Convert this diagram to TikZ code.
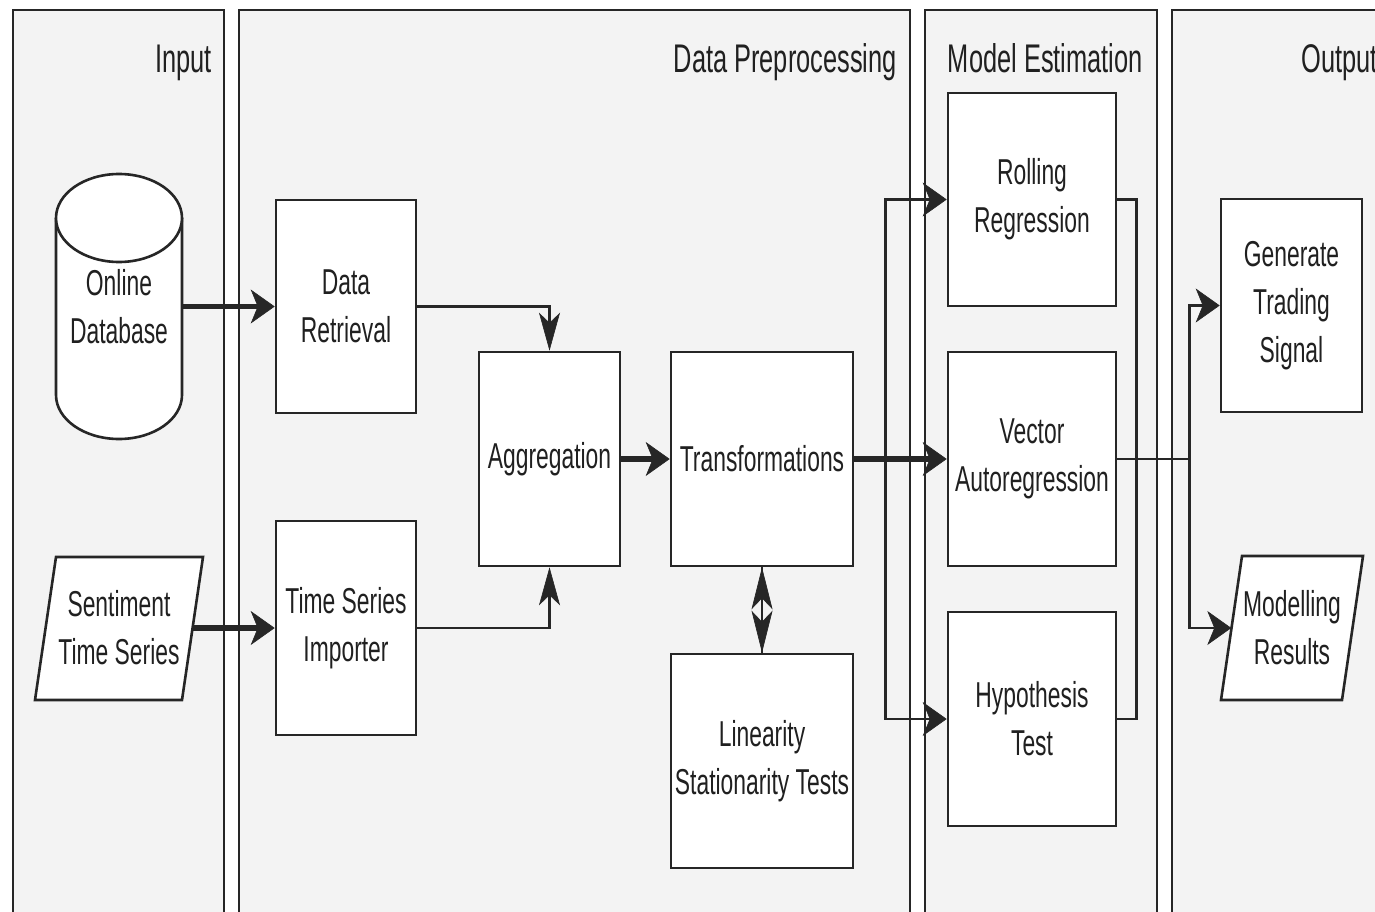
\documentclass[tikz,border=0pt]{standalone}
\usepackage{fontspec}
\setmainfont{Liberation Sans}[FakeStretch=0.635]
\usetikzlibrary{arrows.meta}
\pgfdeclarelayer{panels}
\pgfdeclarelayer{shapes}
\pgfsetlayers{panels,shapes,main}
\definecolor{ink}{HTML}{202020}
\definecolor{stroke}{HTML}{262626}
\definecolor{lane}{HTML}{F3F3F3}

\tikzset{
  lanebox/.style={draw=stroke, fill=lane, line width=2.6pt},
  lanetitle/.style={anchor=base east, inner sep=0pt, font=\fontsize{40}{48}\selectfont},
  procbox/.style={draw=stroke, fill=white, line width=2.6pt, inner sep=0pt, align=center},
  textonly/.style={inner sep=0pt, align=center},
  outline/.style={draw=stroke, fill=white, line width=2.6pt},
  thinline/.style={draw=stroke, line width=2.6pt},
  thickline/.style={draw=stroke, line width=5.5pt},
  harrow/.style={-{Stealth[length=24pt, width=34pt, inset=7pt, line width=0.6pt]}},
  varrow/.style={-{Stealth[length=38pt, width=21pt, inset=10pt, line width=0.6pt]}},
  dblarrow/.style={{Stealth[length=42pt, width=21pt, inset=11pt, line width=0.6pt]}-{Stealth[length=42pt, width=21pt, inset=11pt, line width=0.6pt]}},
}

\begin{document}
\begin{tikzpicture}[x=1pt, y=-1pt, font=\fontsize{36}{48}\selectfont, text=ink]
\useasboundingbox (0,0) rectangle (1375,912);

% swim lanes
\begin{pgfonlayer}{panels}
  \fill[white] (0,0) rectangle (1375,912);
  \draw[lanebox] (13,10) rectangle (224,930);
  \draw[lanebox] (239,10) rectangle (910,930);
  \draw[lanebox] (925,10) rectangle (1157,930);
  \draw[lanebox] (1172,10) rectangle (1392,930);
\end{pgfonlayer}

\node[lanetitle] (tin)  at (212,73)  {Input};
\node[lanetitle] (tpre) at (897,73)  {Data Preprocessing};
\node[lanetitle] (test) at (1143,73) {Model Estimation};
\node[lanetitle] (tout) at (1378,73) {Output};

% input sources
\node[textonly, minimum width=126pt, minimum height=265pt] (db) at (119,306.5) {Online\\Database};
\node[textonly, minimum width=147pt, minimum height=143pt] (sts) at (119,628) {Sentiment\\Time Series};

% preprocessing
\node[procbox, minimum width=140pt, minimum height=213pt] (dr)  at (346,306.5) {Data\\Retrieval};
\node[procbox, minimum width=140pt, minimum height=214pt] (tsi) at (346,628)   {Time Series\\Importer};
\node[procbox, minimum width=141pt, minimum height=214pt] (agg) at (549.5,459) {Aggregation};
\node[procbox, minimum width=182pt, minimum height=214pt] (tr)  at (762,459)   {Transformations};
\node[procbox, minimum width=182pt, minimum height=214pt] (lin) at (762,761)   {Linearity\\Stationarity Tests};

% estimation
\node[procbox, minimum width=168pt, minimum height=213pt] (rr)  at (1032,199.5) {Rolling\\Regression};
\node[procbox, minimum width=168pt, minimum height=214pt] (var) at (1032,459)   {Vector\\Autoregression};
\node[procbox, minimum width=168pt, minimum height=214pt] (ht)  at (1032,719)   {Hypothesis\\Test};

% output
\node[procbox, minimum width=141pt, minimum height=213pt] (gts) at (1291.5,305.5) {Generate\\Trading\\Signal};
\node[textonly, minimum width=121pt, minimum height=144pt] (mr) at (1292,628) {Modelling\\Results};

% database cylinder and data parallelograms
\begin{pgfonlayer}{shapes}
  \path[fill=white, draw=stroke, line width=2.6pt]
    (56,218) -- (56,395) arc[start angle=180, end angle=0, x radius=63, y radius=44] -- (182,218);
  \draw[outline] (119,218) ellipse [x radius=63, y radius=44];
  \draw[outline] (56,557) -- (203,557) -- (182,700) -- (35,700) -- cycle;
  \draw[outline] (1242,556) -- (1363,556) -- (1342,700) -- (1221,700) -- cycle;
\end{pgfonlayer}

% flow
\draw[thickline, harrow] (db.east) -- (dr.west);
\draw[thickline, harrow] (sts.east) -- (tsi.west);
\draw[thinline, varrow] (dr.east) -| (agg.north);
\draw[thinline, varrow] (tsi.east) -| (agg.south);
\draw[thickline, harrow] (agg.east) -- (tr.west);
\draw[thinline, dblarrow] (tr.south) -- (lin.north);
\draw[thinline] (tr.south) -- (lin.north);
\draw[thinline, harrow] (tr.east) -- ++(31,0) |- (rr.west);
\draw[thinline, harrow] (tr.east) -- ++(31,0) |- (ht.west);
\draw[thickline, harrow] (tr.east) -- (var.west);
\draw[thinline] (rr.east) -- ++(19,0) |- (ht.east);
\draw[thinline, harrow] (var.east) -- ++(72,0) |- (gts.west);
\draw[thinline, harrow] (var.east) -- ++(72,0) |- (mr.west);
\end{tikzpicture}
\end{document}
